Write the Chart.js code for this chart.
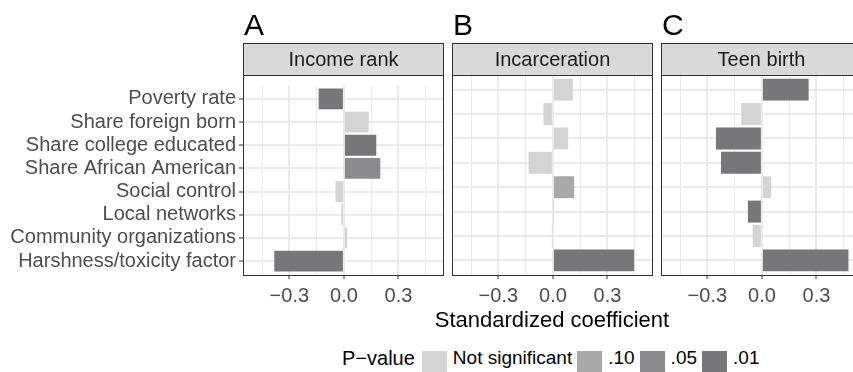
<!DOCTYPE html>
<html>
<head>
<meta charset="utf-8">
<script src="https://cdn.jsdelivr.net/npm/chart.js@4.4.1/dist/chart.umd.min.js"></script>
<style>
  html, body { margin: 0; padding: 0; background: #fff; overflow: hidden; width: 853px; height: 372px; }
  body { position: relative; font-family: "Liberation Sans", Arial, sans-serif; }
  canvas { position: absolute; }
  .letter { position: absolute; top: 10px; font-size: 30px; line-height: 30px; color: #000; }
  .strip { position: absolute; top: 43px; width: 201px; height: 33px; box-sizing: border-box;
           background: #d9d9d9; border: 1px solid #333; font-size: 20px; line-height: 31px;
           color: #1a1a1a; text-align: center; white-space: nowrap; }
  .frame { position: absolute; top: 75px; width: 201px; height: 201px; box-sizing: border-box;
           border: 1px solid #333; pointer-events: none; }
  .axis-title { position: absolute; left: 243px; width: 618px; top: 307px; text-align: center;
                font-size: 22px; line-height: 26px; color: #000; }
  .legend { position: absolute; left: 342px; top: 348px; display: flex; align-items: flex-start;
            font-size: 20px; line-height: 20px; color: #000; white-space: nowrap; }
  .legend .key { width: 25px; height: 25px; margin-top: 3px; }
  .legend .title { margin-right: 7px; }
  .legend .lab { margin-left: 6px; margin-right: 5px; font-size: 19px; }
</style>
</head>
<body>
<div id="root"></div>
<script>
// Neighborhood predictors, top to bottom
const categories = [
  'Poverty rate',
  'Share foreign born',
  'Share college educated',
  'Share African American',
  'Social control',
  'Local networks',
  'Community organizations',
  'Harshness/toxicity factor'
];

// Outcome panels
const panelLetters = ['A', 'B', 'C'];
const panelTitles = ['Income rank', 'Incarceration', 'Teen birth'];

// Standardized coefficients per outcome
const incomeRank    = [-0.139,  0.137,  0.178,  0.200, -0.046, -0.015,  0.018, -0.383];
const incarceration = [ 0.110, -0.052,  0.084, -0.134,  0.117,  0.002, -0.003,  0.447];
const teenBirth     = [ 0.257, -0.114, -0.253, -0.225,  0.051, -0.077, -0.051,  0.476];

// Significance level of each coefficient
const incomeRankP    = ['.01', 'ns', '.01', '.05', 'ns', 'ns', 'ns', '.01'];
const incarcerationP = ['ns', 'ns', 'ns', 'ns', '.10', 'ns', 'ns', '.01'];
const teenBirthP     = ['.01', 'ns', '.01', '.01', 'ns', '.01', 'ns', '.01'];

// P-value legend
const pLevels = ['ns', '.10', '.05', '.01'];
const pLabels = ['Not significant', '.10', '.05', '.01'];
const pTitle = 'P\u2212value';

// x axis ticks
const xTickValues = [-0.3, 0, 0.3];
const xTickLabels = ['\u22120.3', '0.0', '0.3'];
const xMinorValues = [-0.45, -0.15, 0.15, 0.45];
const xAxisTitle = 'Standardized coefficient';

// styling
const pColors = { 'ns': '#d4d4d5', '.10': '#a9a9aa', '.05': '#8b8b8d', '.01': '#77777a' };
const FONT = '"Liberation Sans", Arial, sans-serif';
const GRID = '#ebebeb';
const FRAME = '#333333';

const isMajor = v => xTickValues.some(t => Math.abs(t - v) < 1e-9);

function makePanel(i, values, pvals, panelLeft, yWidth, showY) {
  const root = document.getElementById('root');
  const canvas = document.createElement('canvas');
  const w = yWidth + 200 + 5;
  const h = 265;
  canvas.width = w; canvas.height = h;
  canvas.style.width = w + 'px'; canvas.style.height = h + 'px';
  canvas.style.left = (panelLeft - yWidth) + 'px';
  canvas.style.top = '70px';
  root.appendChild(canvas);

  const frame = document.createElement('div');
  frame.className = 'frame';
  frame.style.left = panelLeft + 'px';
  root.appendChild(frame);

  const strip = document.createElement('div');
  strip.className = 'strip';
  strip.style.left = panelLeft + 'px';
  strip.textContent = panelTitles[i];
  root.appendChild(strip);

  const letter = document.createElement('div');
  letter.className = 'letter';
  letter.style.left = (panelLeft + 1) + 'px';
  letter.textContent = panelLetters[i];
  root.appendChild(letter);

  new Chart(canvas, {
    type: 'bar',
    data: {
      datasets: [{
        data: values.map((v, k) => ({ x: v, y: k })),
        backgroundColor: pvals.map(p => pColors[p]),
        borderWidth: 0,
        barPercentage: 0.9,
        categoryPercentage: 1
      }]
    },
    options: {
      indexAxis: 'y',
      responsive: false,
      animation: false,
      devicePixelRatio: 1,
      layout: { padding: { top: 5, right: 5, left: 0, bottom: 0 } },
      plugins: { legend: { display: false }, tooltip: { enabled: false } },
      scales: {
        x: {
          type: 'linear',
          min: -0.555,
          max: 0.545,
          afterBuildTicks(s) {
            s.ticks = xMinorValues.concat(xTickValues).sort((a, b) => a - b).map(v => ({ value: v }));
          },
          afterFit(s) { s.height = 60; },
          border: { display: false },
          grid: {
            color: GRID,
            lineWidth: c => (c.tick && isMajor(c.tick.value)) ? 2 : 1,
            tickColor: c => (c.tick && isMajor(c.tick.value)) ? FRAME : 'rgba(0,0,0,0)',
            tickLength: 4,
            tickWidth: 1
          },
          ticks: {
            autoSkip: false,
            maxRotation: 0,
            padding: 5,
            color: '#4d4d4d',
            font: { family: FONT, size: 20 },
            callback: v => {
              const k = xTickValues.findIndex(t => Math.abs(t - v) < 1e-9);
              return k >= 0 ? xTickLabels[k] : '';
            }
          }
        },
        y: {
          type: 'linear',
          reverse: true,
          offset: false,
          min: -0.6,
          max: categories.length - 1 + 0.6,
          afterBuildTicks(s) { s.ticks = categories.map((_, k) => ({ value: k })); },
          afterFit(s) { s.width = yWidth; },
          border: { display: false },
          grid: {
            offset: false,
            color: GRID,
            lineWidth: 2,
            drawTicks: showY,
            tickColor: FRAME,
            tickLength: 4,
            tickWidth: 1
          },
          ticks: {
            display: showY,
            autoSkip: false,
            padding: 3,
            color: '#4d4d4d',
            font: { family: FONT, size: 20 },
            callback: v => categories[v]
          }
        }
      }
    }
  });
}

makePanel(0, incomeRank, incomeRankP, 243, 243, true);
makePanel(1, incarceration, incarcerationP, 452, 5, false);
makePanel(2, teenBirth, teenBirthP, 661, 5, false);

// shared axis title
const title = document.createElement('div');
title.className = 'axis-title';
title.textContent = xAxisTitle;
document.getElementById('root').appendChild(title);

// p-value legend
const legend = document.createElement('div');
legend.className = 'legend';
const lt = document.createElement('span');
lt.className = 'title';
lt.textContent = pTitle;
legend.appendChild(lt);
pLevels.forEach((p, k) => {
  const key = document.createElement('span');
  key.className = 'key';
  key.style.background = pColors[p];
  legend.appendChild(key);
  const lab = document.createElement('span');
  lab.className = 'lab';
  lab.textContent = pLabels[k];
  legend.appendChild(lab);
});
document.getElementById('root').appendChild(legend);
</script>
</body>
</html>
